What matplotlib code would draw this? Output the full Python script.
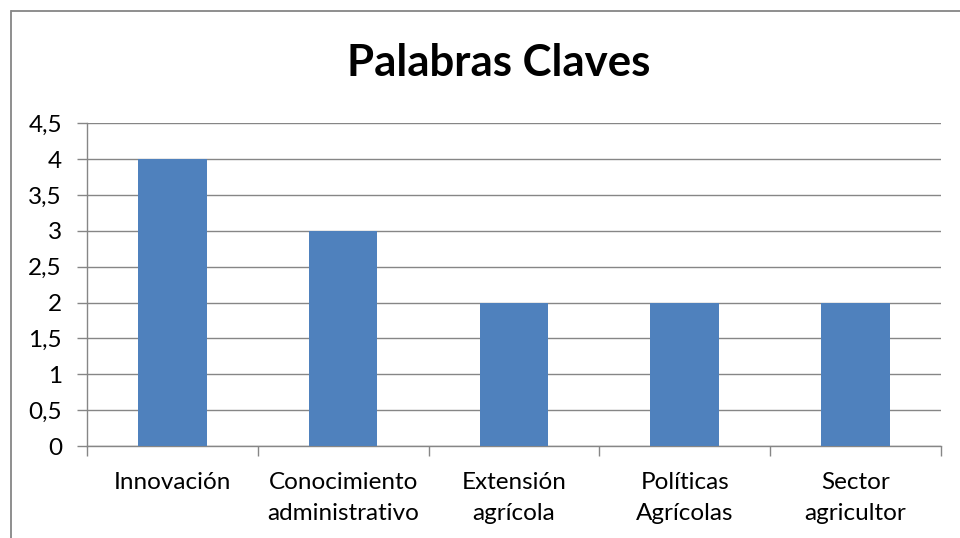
import matplotlib.pyplot as plt
from matplotlib.lines import Line2D

categories = ["Innovación", "Conocimiento\nadministrativo", "Extensión\nagrícola",
              "Políticas\nAgrícolas", "Sector\nagricultor"]
values = [4, 3, 2, 2, 2]
yticks = [0, 0.5, 1, 1.5, 2, 2.5, 3, 3.5, 4, 4.5]
ytick_labels = ["0", "0,5", "1", "1,5", "2", "2,5", "3", "3,5", "4", "4,5"]

plt.rcParams['font.family'] = ['Lato', 'DejaVu Sans']
grey = '#868686'

fig = plt.figure(figsize=(9.6, 5.38), dpi=100)
ax = fig.add_axes([0.0906, 0.171, 0.8894, 0.600])

x = list(range(len(categories)))
ax.bar(x, values, width=0.4, color='#4F81BD', zorder=3)

ax.set_xlim(-0.5, len(categories) - 0.5)
ax.set_ylim(0, 4.5)
ax.set_yticks(yticks)
ax.set_yticklabels(ytick_labels, fontsize=17.5)
ax.set_xticks(x)
ax.set_xticklabels(categories, fontsize=17.5, linespacing=1.62)
ax.tick_params(axis='x', length=0, pad=18.5)
ax.set_xticks([i - 0.5 for i in range(len(categories) + 1)], minor=True)
ax.tick_params(axis='x', which='minor', length=7, color=grey, width=1)
ax.tick_params(axis='y', length=7, color=grey, width=1, pad=11)

ax.grid(axis='y', color=grey, linewidth=1, zorder=0)
for side in ['top', 'right']:
    ax.spines[side].set_visible(False)
for side in ['left', 'bottom']:
    ax.spines[side].set_color(grey)
    ax.spines[side].set_linewidth(1)

fig.text(0.519, 0.883, "Palabras Claves", fontsize=31.5, fontweight='bold',
         ha='center', va='center')

# chart frame (only top and left edges visible)
fig.add_artist(Line2D([12 / 960, 1.0], [1 - 11 / 538, 1 - 11 / 538],
                      transform=fig.transFigure, color=grey, linewidth=1.3))
fig.add_artist(Line2D([11 / 960, 11 / 960], [0, 1 - 11 / 538],
                      transform=fig.transFigure, color=grey, linewidth=1.3))

fig.savefig("out.png", dpi=100)
